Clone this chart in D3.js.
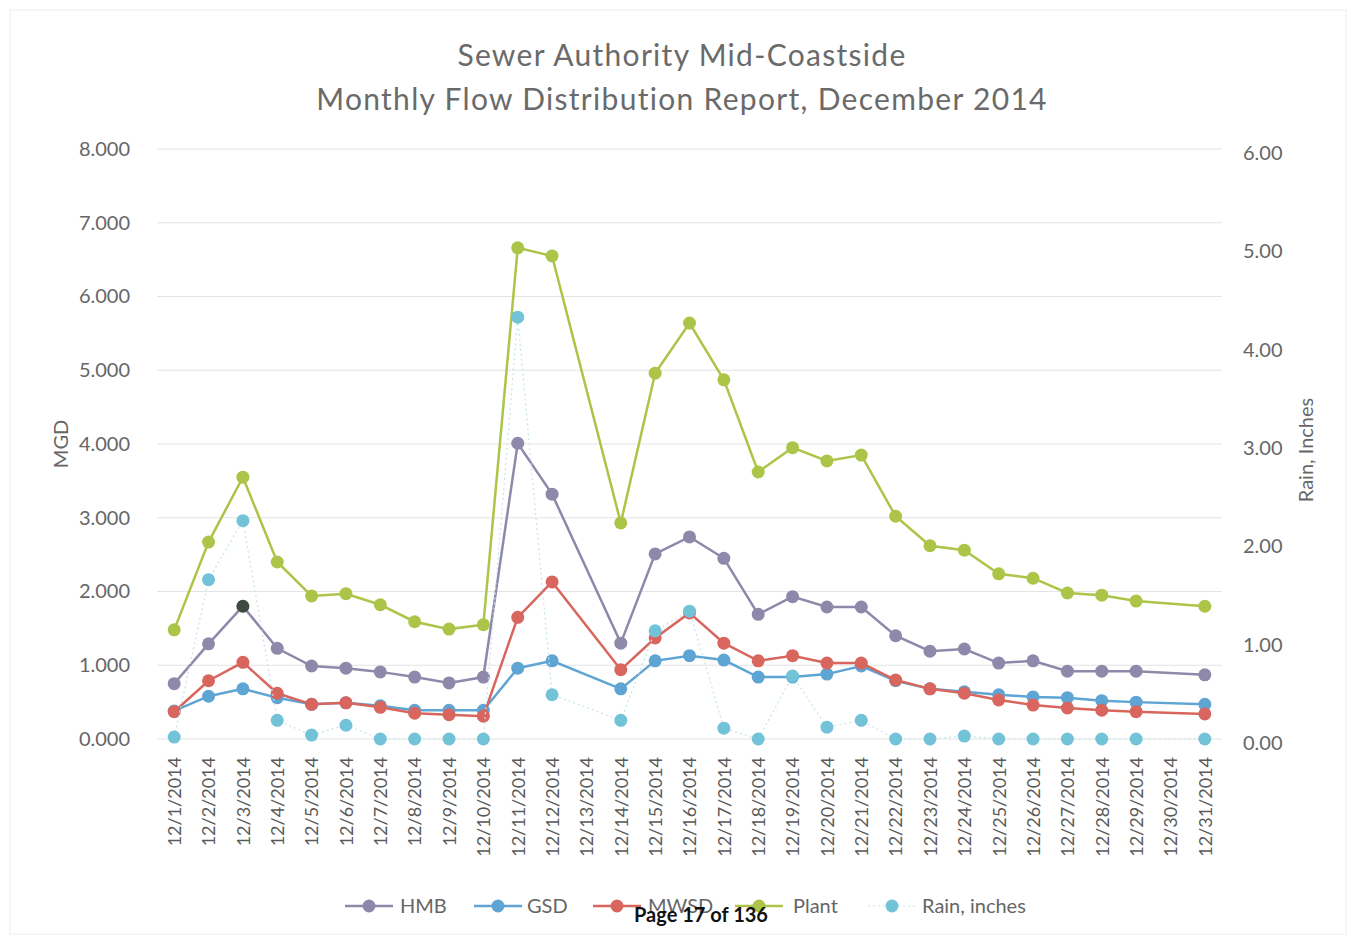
<!DOCTYPE html>
<html>
  <head>
    <meta charset="utf-8">
    <script type="text/javascript" src="https://d3js.org/d3.v7.min.js"></script>
  </head>
  <style>
    body { margin: 0; background: #fff; }
    text { font-family: Lato, "Open Sans", sans-serif; }
  </style>
  <body>
    <script type="text/javascript">
        var width = 1352,
            height = 938;

        // days of December 2014 (12/13 and 12/30 have no readings)
        var days = d3.range(1, 32).map(function(d) { return "12/" + d + "/2014"; });

        var hmb  = [0.75,1.29,1.80,1.23,0.99,0.96,0.91,0.84,0.76,0.84,4.01,3.32,null,1.30,2.51,2.74,2.45,1.69,1.93,1.79,1.79,1.40,1.19,1.22,1.03,1.06,0.92,0.92,0.92,null,0.87];
        var gsd  = [0.38,0.58,0.68,0.56,0.47,0.49,0.45,0.39,0.39,0.39,0.96,1.06,null,0.68,1.06,1.13,1.07,0.84,0.84,0.88,0.99,0.79,0.68,0.64,0.60,0.57,0.56,0.52,0.50,null,0.47];
        var mwsd = [0.37,0.79,1.04,0.62,0.47,0.49,0.43,0.35,0.33,0.31,1.65,2.13,null,0.94,1.37,1.71,1.30,1.06,1.13,1.03,1.03,0.80,0.68,0.62,0.53,0.46,0.42,0.39,0.37,null,0.34];
        var plant = [1.48,2.67,3.55,2.40,1.94,1.97,1.82,1.59,1.49,1.55,6.66,6.55,null,2.93,4.96,5.64,4.87,3.62,3.95,3.77,3.85,3.02,2.62,2.56,2.24,2.18,1.98,1.95,1.87,null,1.80];
        var rain = [0.02,1.62,2.22,0.19,0.04,0.14,0.00,0.00,0.00,0.00,4.29,0.45,null,0.19,1.10,1.30,0.11,0.00,0.64,0.12,0.19,0.00,0.00,0.03,0.00,0.00,0.00,0.00,0.00,null,0.00];

        var leftTicks = [0, 1, 2, 3, 4, 5, 6, 7, 8];
        var rightTicks = [0, 1, 2, 3, 4, 5, 6];

        var series = [
            {name: "HMB",  values: hmb,  color: "#8e89aa", axis: "left"},
            {name: "GSD",  values: gsd,  color: "#5ea5d4", axis: "left"},
            {name: "MWSD", values: mwsd, color: "#d8665e", axis: "left"},
            {name: "Plant", values: plant, color: "#acc448", axis: "left"},
            {name: "Rain, inches", values: rain, color: "#72c2d8", axis: "right"}
        ];

        var margin = {top: 149, left: 157, right: 130, bottom: 199};

        var svg = d3.select("body").append("svg")
                    .attr("width", width)
                    .attr("height", height);

        // faint page frame
        svg.append("rect")
            .attr("x", 10).attr("y", 10)
            .attr("width", 1336).attr("height", 924)
            .attr("fill", "none")
            .attr("stroke", "#ececec");

        var x = d3.scalePoint()
                  .domain(days)
                  .range([margin.left, width - margin.right])
                  .padding(0.5);

        var yL = d3.scaleLinear().domain([0, 8]).range([height - margin.bottom, margin.top]);
        var yR = d3.scaleLinear().domain([0, 6]).range([height - margin.bottom, margin.top]);

        //gridlines
        svg.append("g")
            .selectAll("line")
            .data(leftTicks)
            .enter()
            .append("line")
            .attr("x1", margin.left)
            .attr("x2", width - margin.right)
            .attr("y1", function(d) { return yL(d); })
            .attr("y2", function(d) { return yL(d); })
            .attr("stroke", "#e3e3e3")
            .attr("stroke-width", 1);

        //left axis
        var leftAxis = svg.append("g")
            .attr("transform", "translate(" + (margin.left - 24) + ",0)")
            .call(d3.axisLeft(yL).tickValues(leftTicks).tickFormat(d3.format(".3f")).tickSize(0));
        leftAxis.select(".domain").remove();
        leftAxis.selectAll("text")
            .attr("font-size", 20)
            .attr("fill", "#666")
            .attr("font-family", "Lato, sans-serif");

        //right axis
        var rightAxis = svg.append("g")
            .attr("transform", "translate(" + (width - margin.right + 18) + ",4)")
            .call(d3.axisRight(yR).tickValues(rightTicks).tickFormat(d3.format(".2f")).tickSize(0));
        rightAxis.select(".domain").remove();
        rightAxis.selectAll("text")
            .attr("font-size", 20)
            .attr("fill", "#666")
            .attr("font-family", "Lato, sans-serif");

        //x axis, rotated labels
        var xAxis = svg.append("g")
            .attr("transform", "translate(0," + (height - margin.bottom) + ")")
            .call(d3.axisBottom(x).tickSize(0));
        xAxis.select(".domain").remove();
        xAxis.selectAll("text")
            .attr("font-size", 18)
            .attr("fill", "#5a5a5a")
            .attr("font-family", "Lato, sans-serif")
            .attr("text-anchor", "end")
            .attr("dy", "0.35em")
            .attr("transform", "translate(0,18) rotate(-90)")
            .attr("x", 0)
            .attr("y", 0);

        //axis titles
        svg.append("text")
            .attr("transform", "translate(68,444) rotate(-90)")
            .attr("text-anchor", "middle")
            .attr("font-size", 20)
            .attr("fill", "#666")
            .text("MGD");
        svg.append("text")
            .attr("transform", "translate(1313,450) rotate(-90)")
            .attr("text-anchor", "middle")
            .attr("font-size", 20)
            .attr("fill", "#666")
            .text("Rain, Inches");

        //title
        svg.append("text")
            .attr("x", 682).attr("y", 66)
            .attr("text-anchor", "middle")
            .attr("font-size", 30)
            .attr("letter-spacing", 1.3)
            .attr("fill", "#6a6a6a")
            .text("Sewer Authority Mid-Coastside");
        svg.append("text")
            .attr("x", 682).attr("y", 110)
            .attr("text-anchor", "middle")
            .attr("font-size", 30)
            .attr("letter-spacing", 1.3)
            .attr("fill", "#6a6a6a")
            .text("Monthly Flow Distribution Report, December 2014");

        //series lines and markers
        series.forEach(function(s) {
            var y = s.axis === "left" ? yL : yR;
            var pts = days.map(function(d, i) { return {day: d, v: s.values[i]}; })
                          .filter(function(p) { return p.v !== null; });
            var line = d3.line()
                         .x(function(p) { return x(p.day); })
                         .y(function(p) { return y(p.v); });
            var isRain = s.name === "Rain, inches";
            svg.append("path")
                .datum(pts)
                .attr("fill", "none")
                .attr("stroke", isRain ? "#c4e3ec" : s.color)
                .attr("stroke-width", isRain ? 1.2 : 2.5)
                .attr("stroke-dasharray", isRain ? "2,3" : null)
                .attr("d", line);
            svg.append("g")
                .selectAll("circle")
                .data(pts)
                .enter()
                .append("circle")
                .attr("cx", function(p) { return x(p.day); })
                .attr("cy", function(p) { return y(p.v); })
                .attr("r", 6.5)
                .attr("fill", function(p) {
                    // the selected point on 12/3 is drawn darker
                    return (s.name === "HMB" && p.day === "12/3/2014") ? "#3f4a42" : s.color;
                });
        });

        //legend
        var legendX = [345, 474, 593, 735, 868];
        var legendText = [400, 527, 648, 793, 922];
        var lg = svg.append("g").attr("class", "legend");
        series.forEach(function(s, i) {
            var isRain = s.name === "Rain, inches";
            lg.append("line")
                .attr("x1", legendX[i]).attr("x2", legendX[i] + 48)
                .attr("y1", 906).attr("y2", 906)
                .attr("stroke", isRain ? "#c4e3ec" : s.color)
                .attr("stroke-width", isRain ? 1.2 : 2.5)
                .attr("stroke-dasharray", isRain ? "2,3" : null);
            lg.append("circle")
                .attr("cx", legendX[i] + 24).attr("cy", 906)
                .attr("r", 6.5)
                .attr("fill", s.color);
            lg.append("text")
                .attr("x", legendText[i]).attr("y", 913)
                .attr("font-size", 20)
                .attr("fill", "#666")
                .text(s.name);
        });

        //page footer from the source document, stamped over the legend as in the scan
        svg.append("text")
            .attr("x", 701).attr("y", 922)
            .attr("text-anchor", "middle")
            .attr("font-family", "Liberation Sans, Arial, sans-serif")
            .attr("font-size", 20)
            .attr("font-weight", "bold")
            .attr("fill", "#111")
            .text("Page 17 of 136");
    </script>
  </body>
</html>
